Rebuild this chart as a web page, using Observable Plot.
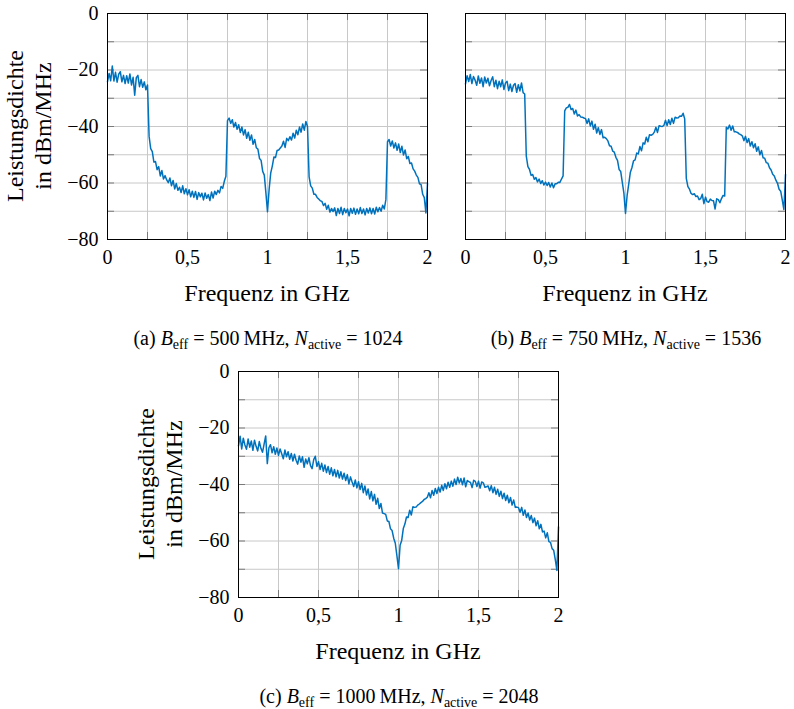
<!DOCTYPE html>
<html><head><meta charset="utf-8">
<script src="https://cdn.jsdelivr.net/npm/d3@7"></script>
<script src="https://cdn.jsdelivr.net/npm/@observablehq/plot@0.6"></script>
<style>
body{margin:0;background:#fff;}
#root{position:relative;width:794px;height:709px;overflow:hidden;font-family:"Liberation Serif","Times New Roman",serif;color:#000;background:#fff;}
.panel{position:absolute;font-family:"Liberation Serif","Times New Roman",serif !important;}
.panel text, .panel tspan, .panel g{font-family:"Liberation Serif","Times New Roman",serif !important;}
.xlab{position:absolute;font-size:24px;line-height:24px;white-space:nowrap;transform:translateX(-50%);}
.ylab{position:absolute;font-size:24px;line-height:28px;white-space:nowrap;text-align:center;transform:translate(-50%,-50%) rotate(-90deg);}
.cap{position:absolute;font-size:20px;line-height:20px;white-space:nowrap;transform:translateX(-50%);}
.cap sub{font-size:70%;vertical-align:-0.3em;line-height:0;}
</style></head><body><div id="root"></div>
<script>
// Frequency bins (GHz), 0.01 GHz spacing, 0 … 2
const freqGHz = d3.range(201).map(i => i / 100);

// Power spectral density in dBm/MHz
const psdA = [
 -24.1,-21.2,-23.8,-18.6,-23.9,-20.8,-24.3,-21.5,-20.6,-24.2,
 -21.9,-24.8,-22.0,-24.6,-21.4,-25.3,-22.6,-28.9,-22.7,-21.9,
 -25.9,-23.4,-26.1,-24.2,-27.0,-25.3,-43.5,-47.8,-48.9,-52.6,
 -52.4,-55.3,-54.2,-57.5,-55.6,-58.6,-57.4,-58.9,-59.9,-58.2,
 -61.0,-59.1,-62.1,-60.2,-62.6,-61.5,-63.4,-61.0,-63.8,-62.0,
 -64.2,-62.4,-64.9,-62.9,-65.1,-63.0,-65.8,-63.4,-64.9,-63.6,
 -66.0,-63.5,-65.4,-64.1,-66.2,-63.2,-65.3,-62.9,-64.1,-62.6,
 -63.5,-61.2,-61.9,-59.4,-57.6,-37.9,-37.0,-38.9,-37.6,-40.2,
 -38.6,-41.0,-39.4,-42.1,-40.2,-43.0,-41.1,-44.2,-42.0,-44.9,
 -43.0,-46.3,-44.6,-47.5,-48.0,-51.3,-52.0,-55.9,-57.2,-63.5,
 -70.2,-62.4,-56.5,-54.0,-50.8,-51.0,-48.5,-48.3,-47.6,-46.9,
 -45.2,-47.4,-44.2,-45.0,-43.6,-44.8,-42.4,-44.1,-41.3,-42.9,
 -40.2,-42.0,-39.1,-41.3,-38.2,-40.0,-57.8,-61.0,-61.8,-64.0,
 -64.0,-65.1,-65.7,-66.3,-66.5,-68.0,-67.2,-69.3,-67.9,-70.3,
 -69.0,-70.1,-68.8,-71.5,-69.0,-70.8,-68.6,-71.2,-69.0,-70.5,
 -69.2,-71.6,-69.0,-70.7,-68.9,-71.1,-69.2,-70.9,-68.7,-70.8,
 -69.2,-71.3,-69.0,-70.6,-68.8,-70.9,-69.0,-71.0,-68.6,-70.2,
 -68.7,-70.0,-67.9,-69.2,-65.8,-45.4,-44.6,-46.9,-45.1,-47.6,
 -45.8,-48.4,-46.2,-49.2,-47.0,-50.1,-48.3,-51.4,-50.6,-53.1,
 -52.9,-55.0,-55.8,-57.2,-58.0,-60.3,-60.6,-64.0,-65.2,-70.6,
 -60.0];

const psdB = [
 -24.9,-22.0,-24.1,-21.6,-24.8,-22.3,-23.6,-25.4,-22.1,-24.7,
 -22.8,-25.9,-22.5,-24.6,-22.9,-25.6,-23.7,-22.4,-25.9,-23.6,
 -26.6,-24.0,-25.9,-23.5,-26.9,-24.6,-24.0,-27.3,-25.0,-27.6,
 -25.4,-24.8,-27.9,-25.2,-27.4,-24.6,-28.0,-28.5,-50.5,-54.2,
 -55.2,-57.3,-57.0,-58.7,-58.1,-59.6,-58.6,-60.2,-59.2,-60.7,
 -59.7,-60.9,-59.8,-61.4,-60.0,-61.7,-60.3,-60.3,-59.7,-59.8,
 -58.6,-57.5,-34.5,-33.4,-33.2,-32.2,-34.0,-33.6,-35.6,-34.2,
 -36.3,-35.8,-36.6,-36.7,-37.0,-37.2,-38.9,-37.3,-39.8,-38.1,
 -41.0,-39.2,-42.3,-40.4,-42.8,-41.1,-44.0,-43.8,-44.3,-45.1,
 -46.8,-47.0,-48.7,-49.1,-50.9,-52.0,-55.2,-55.9,-59.8,-63.6,
 -70.8,-64.5,-60.5,-56.3,-54.6,-52.2,-51.8,-49.4,-49.7,-47.1,
 -48.6,-45.8,-46.2,-43.8,-45.4,-42.9,-43.1,-42.8,-42.0,-40.3,
 -42.1,-39.7,-39.9,-40.0,-39.6,-37.8,-39.7,-37.6,-39.3,-37.1,
 -38.9,-36.7,-37.0,-36.9,-36.3,-36.4,-35.3,-37.3,-58.4,-61.3,
 -62.2,-63.7,-64.1,-63.8,-64.8,-64.6,-65.9,-65.5,-64.0,-67.3,
 -65.0,-66.6,-66.8,-65.7,-66.2,-66.3,-69.2,-65.6,-65.9,-67.0,
 -65.5,-64.4,-64.6,-40.3,-40.9,-39.5,-41.3,-39.8,-41.9,-41.9,
 -42.1,-42.6,-42.9,-43.3,-45.0,-43.5,-45.7,-44.3,-46.9,-45.4,
 -47.5,-46.1,-48.8,-47.2,-50.0,-48.5,-51.1,-51.2,-52.8,-53.0,
 -54.6,-55.4,-56.9,-57.5,-59.0,-60.1,-62.2,-62.9,-66.1,-69.4,
 -57.0];

const psdC = [
 -26.3,-22.9,-27.4,-23.6,-26.0,-27.5,-23.9,-26.8,-24.6,-27.9,
 -24.3,-26.5,-28.1,-24.8,-27.2,-28.6,-25.7,-22.8,-32.6,-27.0,
 -25.9,-28.8,-26.6,-29.3,-27.1,-29.7,-27.4,-29.1,-30.9,-27.8,
 -30.2,-28.4,-31.1,-29.0,-31.7,-29.3,-31.4,-32.8,-29.9,-32.1,
 -30.2,-33.9,-31.0,-32.7,-30.5,-33.3,-34.4,-31.2,-30.0,-33.6,
 -31.9,-34.7,-32.5,-35.3,-33.1,-35.8,-33.6,-36.4,-34.1,-36.9,
 -34.7,-37.3,-35.0,-37.7,-35.5,-38.1,-36.0,-38.6,-36.5,-39.8,
 -37.3,-39.1,-40.7,-38.4,-41.2,-39.0,-41.8,-39.6,-42.9,-40.5,
 -43.7,-41.6,-45.1,-42.5,-45.8,-43.5,-47.0,-44.9,-48.5,-46.7,
 -50.1,-50.3,-50.6,-52.9,-53.1,-55.7,-56.3,-59.0,-60.8,-65.2,
 -69.8,-61.5,-59.8,-55.6,-54.0,-51.5,-51.7,-49.1,-50.8,-47.9,
 -48.1,-48.0,-47.3,-46.9,-46.4,-46.0,-45.3,-45.0,-44.5,-42.9,
 -44.7,-42.1,-43.8,-41.4,-43.2,-41.0,-42.7,-40.3,-42.1,-39.7,
 -41.5,-39.2,-41.0,-38.8,-40.6,-38.1,-40.0,-37.4,-39.5,-37.9,
 -40.1,-37.7,-40.8,-38.6,-39.0,-39.3,-41.1,-38.5,-38.9,-40.7,
 -38.8,-41.3,-39.1,-39.4,-41.0,-40.8,-40.5,-42.2,-40.4,-42.9,
 -41.0,-43.5,-41.7,-44.2,-42.4,-45.0,-43.1,-45.7,-43.8,-46.5,
 -44.6,-47.3,-45.5,-48.1,-48.0,-48.2,-49.8,-48.1,-50.9,-49.0,
 -51.7,-50.1,-52.6,-51.0,-53.5,-51.9,-54.6,-52.8,-55.7,-54.1,
 -56.8,-56.5,-58.9,-57.1,-60.2,-60.5,-62.7,-63.3,-66.6,-70.4,
 -55.0];

// Axis ticks / grid
const xGrid = [0, 0.25, 0.5, 0.75, 1, 1.25, 1.5, 1.75, 2];
const xTicks = [0, 0.5, 1, 1.5, 2];
const yGrid = [-80, -70, -60, -50, -40, -30, -20, -10, 0];
const yTicks = [-80, -60, -40, -20, 0];

const xLabel = "Frequenz in GHz";
const yLabelLines = ["Leistungsdichte", "in dBm/MHz"];
const captions = [
  '(a) <i>B</i><sub>eff</sub> = 500\u2009MHz, <i>N</i><sub>active</sub> = 1024',
  '(b) <i>B</i><sub>eff</sub> = 750\u2009MHz, <i>N</i><sub>active</sub> = 1536',
  '(c) <i>B</i><sub>eff</sub> = 1000\u2009MHz, <i>N</i><sub>active</sub> = 2048'
];

// Layout
const PW = 320, PH = 226, ML = 107, MT = 13, MR = 13, MB = 60;
const tickPx = 7;
const tx = tickPx * 2 / PW;      // inner tick length in x data units
const ty = tickPx * 80 / PH;     // inner tick length in y data units
const SERIF = "Liberation Serif";

const fmtX = d => String(d).replace(".", ",");
const fmtY = d => d < 0 ? "\u2212" + (-d) : String(d);

function panel(values, showY) {
  const data = values.map((v, i) => ({f: freqGHz[i], p: v}));
  const tickStyle = {stroke: "#7a7a7a", strokeWidth: 1};
  return Plot.plot({
    width: ML + PW + MR, height: MT + PH + MB,
    marginLeft: ML, marginTop: MT, marginRight: MR, marginBottom: MB,
    style: {fontFamily: SERIF, fontSize: "20px", color: "#000", background: "transparent", overflow: "visible"},
    x: {domain: [0, 2], axis: null},
    y: {domain: [-80, 0], axis: null},
    marks: [
      Plot.gridX(xGrid, {stroke: "#c8c8c8", strokeOpacity: 1, strokeWidth: 1}),
      Plot.gridY(yGrid, {stroke: "#c8c8c8", strokeOpacity: 1, strokeWidth: 1}),
      Plot.ruleY(yGrid, {x1: 0, x2: tx, ...tickStyle}),
      Plot.ruleY(yGrid, {x1: 2 - tx, x2: 2, ...tickStyle}),
      Plot.ruleX(xGrid, {y1: -80, y2: -80 + ty, ...tickStyle}),
      Plot.ruleX(xGrid, {y1: -ty, y2: 0, ...tickStyle}),
      Plot.line(data, {x: "f", y: "p", stroke: "#0072bd", strokeWidth: 1.5, strokeLinejoin: "round"}),
      Plot.frame({stroke: "#000", strokeWidth: 1}),
      Plot.axisX(xTicks, {tickSize: 0, tickPadding: 10, tickFormat: fmtX, label: null, fontSize: 20, fontFamily: SERIF}),
      showY ? Plot.axisY(yTicks, {tickSize: 0, tickPadding: 9, tickFormat: fmtY, label: null, fontSize: 20, fontFamily: SERIF}) : null
    ]
  });
}

const root = document.getElementById("root");
function place(el, left, top) {
  el.classList.add("panel");
  el.style.left = left + "px";
  el.style.top = top + "px";
  el.style.fontFamily = "'Liberation Serif', serif";
  el.querySelectorAll("text").forEach(t => {
    t.setAttribute("font-family", "Liberation Serif");
    t.style.fontFamily = "'Liberation Serif', serif";
  });
  root.appendChild(el);
}
function addDiv(cls, html, left, top) {
  const d = document.createElement("div");
  d.className = cls;
  d.innerHTML = html;
  d.style.left = left + "px";
  d.style.top = top + "px";
  root.appendChild(d);
}

// panel positions: plot-area left/top
const panels = [
  {vals: psdA, showY: true, px: 107, py: 13, cap: captions[0]},
  {vals: psdB, showY: false, px: 465, py: 13, cap: captions[1]},
  {vals: psdC, showY: true, px: 238, py: 371, cap: captions[2]}
];

for (const p of panels) {
  place(panel(p.vals, p.showY), p.px - ML, p.py - MT);
  const cx = p.px + PW / 2;
  addDiv("xlab", xLabel, cx, p.py + PH + 42);
  if (p.showY) addDiv("ylab", yLabelLines.join("<br>"), p.px - 78, p.py + PH / 2);
  addDiv("cap", p.cap, cx + 1, p.py + PH + 89);
}
</script></body></html>
